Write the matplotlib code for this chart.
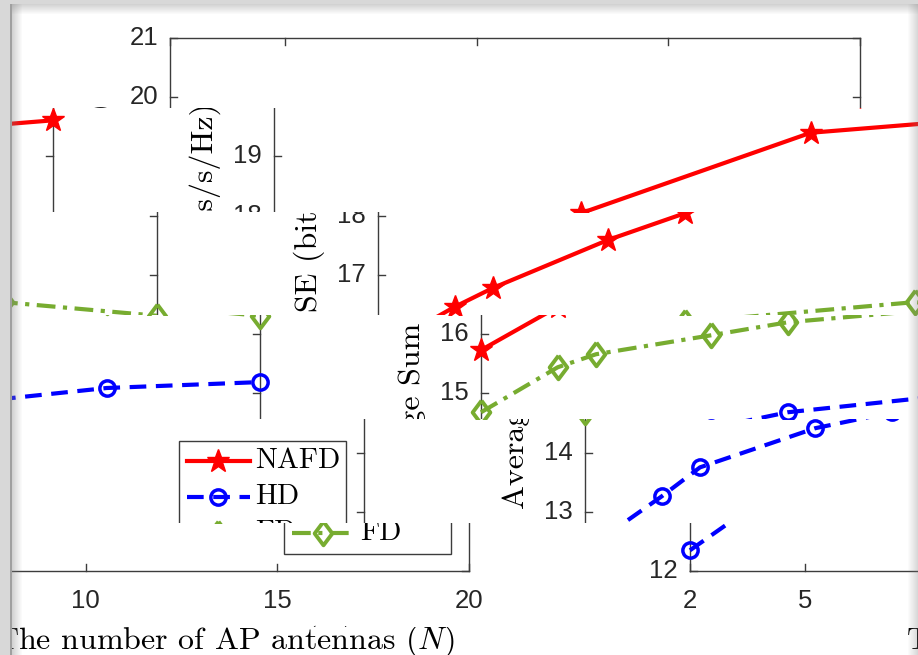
import matplotlib.pyplot as plt
from matplotlib.patches import Rectangle

plt.rcParams['mathtext.fontset'] = 'cm'

# data (average sum SE vs number of AP antennas)
N = [2, 4, 5, 8, 10, 16, 20]
nafd = [15.73, 16.46, 16.78, 17.59, 18.04, 19.40, 19.61]
hd = [12.35, 13.26, 13.75, 14.41, 14.68, 15.09, 15.19]
fd = [14.68, 15.44, 15.66, 15.98, 16.20, 16.54, 16.31]

xticks = [2, 5, 10, 15, 20]
yticks = list(range(12, 22))
xlim = (2, 20)
ylim = (12, 21)
labels = ['NAFD', 'HD', 'FD']

W, H = 918, 655
# where the plot box sits in the intact picture (pixels)
BOX_L, BOX_R, BOX_T, BOX_B = 170, 860, 38, 571
PERIOD = 911
# the picture is torn into horizontal bands, each slid sideways (wrapping)
bands = [(5, 108, 0), (108, 212, 104), (212, 315, 208), (315, 419, 311),
         (419, 523, 415), (523, 627, 520), (627, 655, 621)]

GREEN = '#77ac30'
SPINE = '#3c3c3c'
TXT = '#262626'

px_x = (BOX_R - BOX_L) / (xlim[1] - xlim[0])
px_y = (BOX_B - BOX_T) / (ylim[1] - ylim[0])


def nx(px):
    return xlim[0] + (px - BOX_L) / px_x


def vy(py):
    return ylim[1] - (py - BOX_T) / px_y


diamond = [(0, 1), (0.75, 0), (0, -1), (-0.75, 0), (0, 1)]
styles = [
    dict(color='red', lw=3, marker='*', ms=17, mec='red', mfc='red'),
    dict(color='blue', lw=3, dashes=(4, 2.3), marker='o', ms=11, mfc='none', mew=2.5),
    dict(color=GREEN, lw=3, dashes=(4.5, 1.8, 1, 1.8), marker=diamond, ms=17, mfc='none', mew=2.8),
]


def draw(ax):
    # frame
    ax.plot([xlim[0], xlim[1], xlim[1], xlim[0], xlim[0]],
            [ylim[0], ylim[0], ylim[1], ylim[1], ylim[0]], color=SPINE, lw=1, zorder=1)
    tx = 7 / px_x
    ty = 7 / px_y
    for t in xticks:
        ax.plot([t, t], [ylim[0], ylim[0] + ty], color=SPINE, lw=1, zorder=1)
        ax.plot([t, t], [ylim[1], ylim[1] - ty], color=SPINE, lw=1, zorder=1)
        ax.text(t, vy(601), str(t), ha='center', va='center', fontsize=18.5,
                family='Liberation Sans', color=TXT, clip_on=True)
    for t in yticks:
        ax.plot([xlim[0], xlim[0] + tx], [t, t], color=SPINE, lw=1, zorder=1)
        ax.plot([xlim[1], xlim[1] - tx], [t, t], color=SPINE, lw=1, zorder=1)
        ax.text(nx(158), t, str(t), ha='right', va='center', fontsize=18.5,
                family='Liberation Sans', color=TXT, clip_on=True)

    for ys, st in zip([nafd, hd, fd], styles):
        ax.plot(N, ys, zorder=3, clip_on=True, **st)

    ax.text(nx(515), vy(649), 'The number of AP antennas ($N$)', ha='center',
            va='baseline', fontsize=23, family='cmr10', color='black', clip_on=True)
    ax.text(nx(101), vy(306), 'Average Sum SE (bits/s/Hz)', ha='center', va='center',
            rotation=90, fontsize=23, family='cmr10', color='black', clip_on=True)

    # legend
    ax.add_patch(Rectangle((nx(675), vy(554)), nx(842) - nx(675), vy(441) - vy(554),
                           facecolor='white', edgecolor=SPINE, lw=1, zorder=5))
    for row, (lab, st) in zip([461, 497, 533], zip(labels, styles)):
        line = {k: v for k, v in st.items() if k not in ('marker', 'ms', 'mfc', 'mec', 'mew')}
        ax.plot([nx(683), nx(746)], [vy(row)] * 2, zorder=6, **line)
        ax.plot([nx(714)], [vy(row)], linestyle='none', color=st['color'], marker=st['marker'],
                ms=st['ms'], mfc=st.get('mfc', st['color']), mec=st['color'],
                mew=st.get('mew', 1), zorder=7)
        ax.text(nx(751), vy(row), lab, ha='left', va='center', fontsize=21,
                family='cmr10', color='black', zorder=7, clip_on=True)


fig = plt.figure(figsize=(W / 100, H / 100), dpi=100)
fig.patch.set_facecolor('white')

for top, bot, shift in bands:
    for off in (shift, shift - PERIOD):
        ax = fig.add_axes([12 / W, 1 - bot / H, (W - 12) / W, (bot - top) / H])
        ax.set_xlim(nx(12 - off), nx(W - off))
        ax.set_ylim(vy(bot), vy(top))
        ax.axis('off')
        draw(ax)


def frame_rect(x, y, w, h, color, alpha=1.0):
    fig.add_artist(Rectangle((x / W, 1 - (y + h) / H), w / W, h / H, transform=fig.transFigure,
                             facecolor=color, edgecolor='none', alpha=alpha, zorder=20))


# window border and shadow
for i in range(10):
    frame_rect(12 + i, 0, 1, H, '#808080', 0.35 * (1 - i / 10))
    frame_rect(0, 4 + i, W, 1, '#808080', 0.35 * (1 - i / 10))
    frame_rect(W - 1 - i, 0, 1, H, '#808080', 0.3 * (1 - i / 10))
frame_rect(0, 0, 11, H, '#d8d8d8')
frame_rect(0, 0, W, 4, '#d8d8d8')
frame_rect(10, 4, 2, H, '#a0a0a0')

fig.savefig('out.png', dpi=100)
